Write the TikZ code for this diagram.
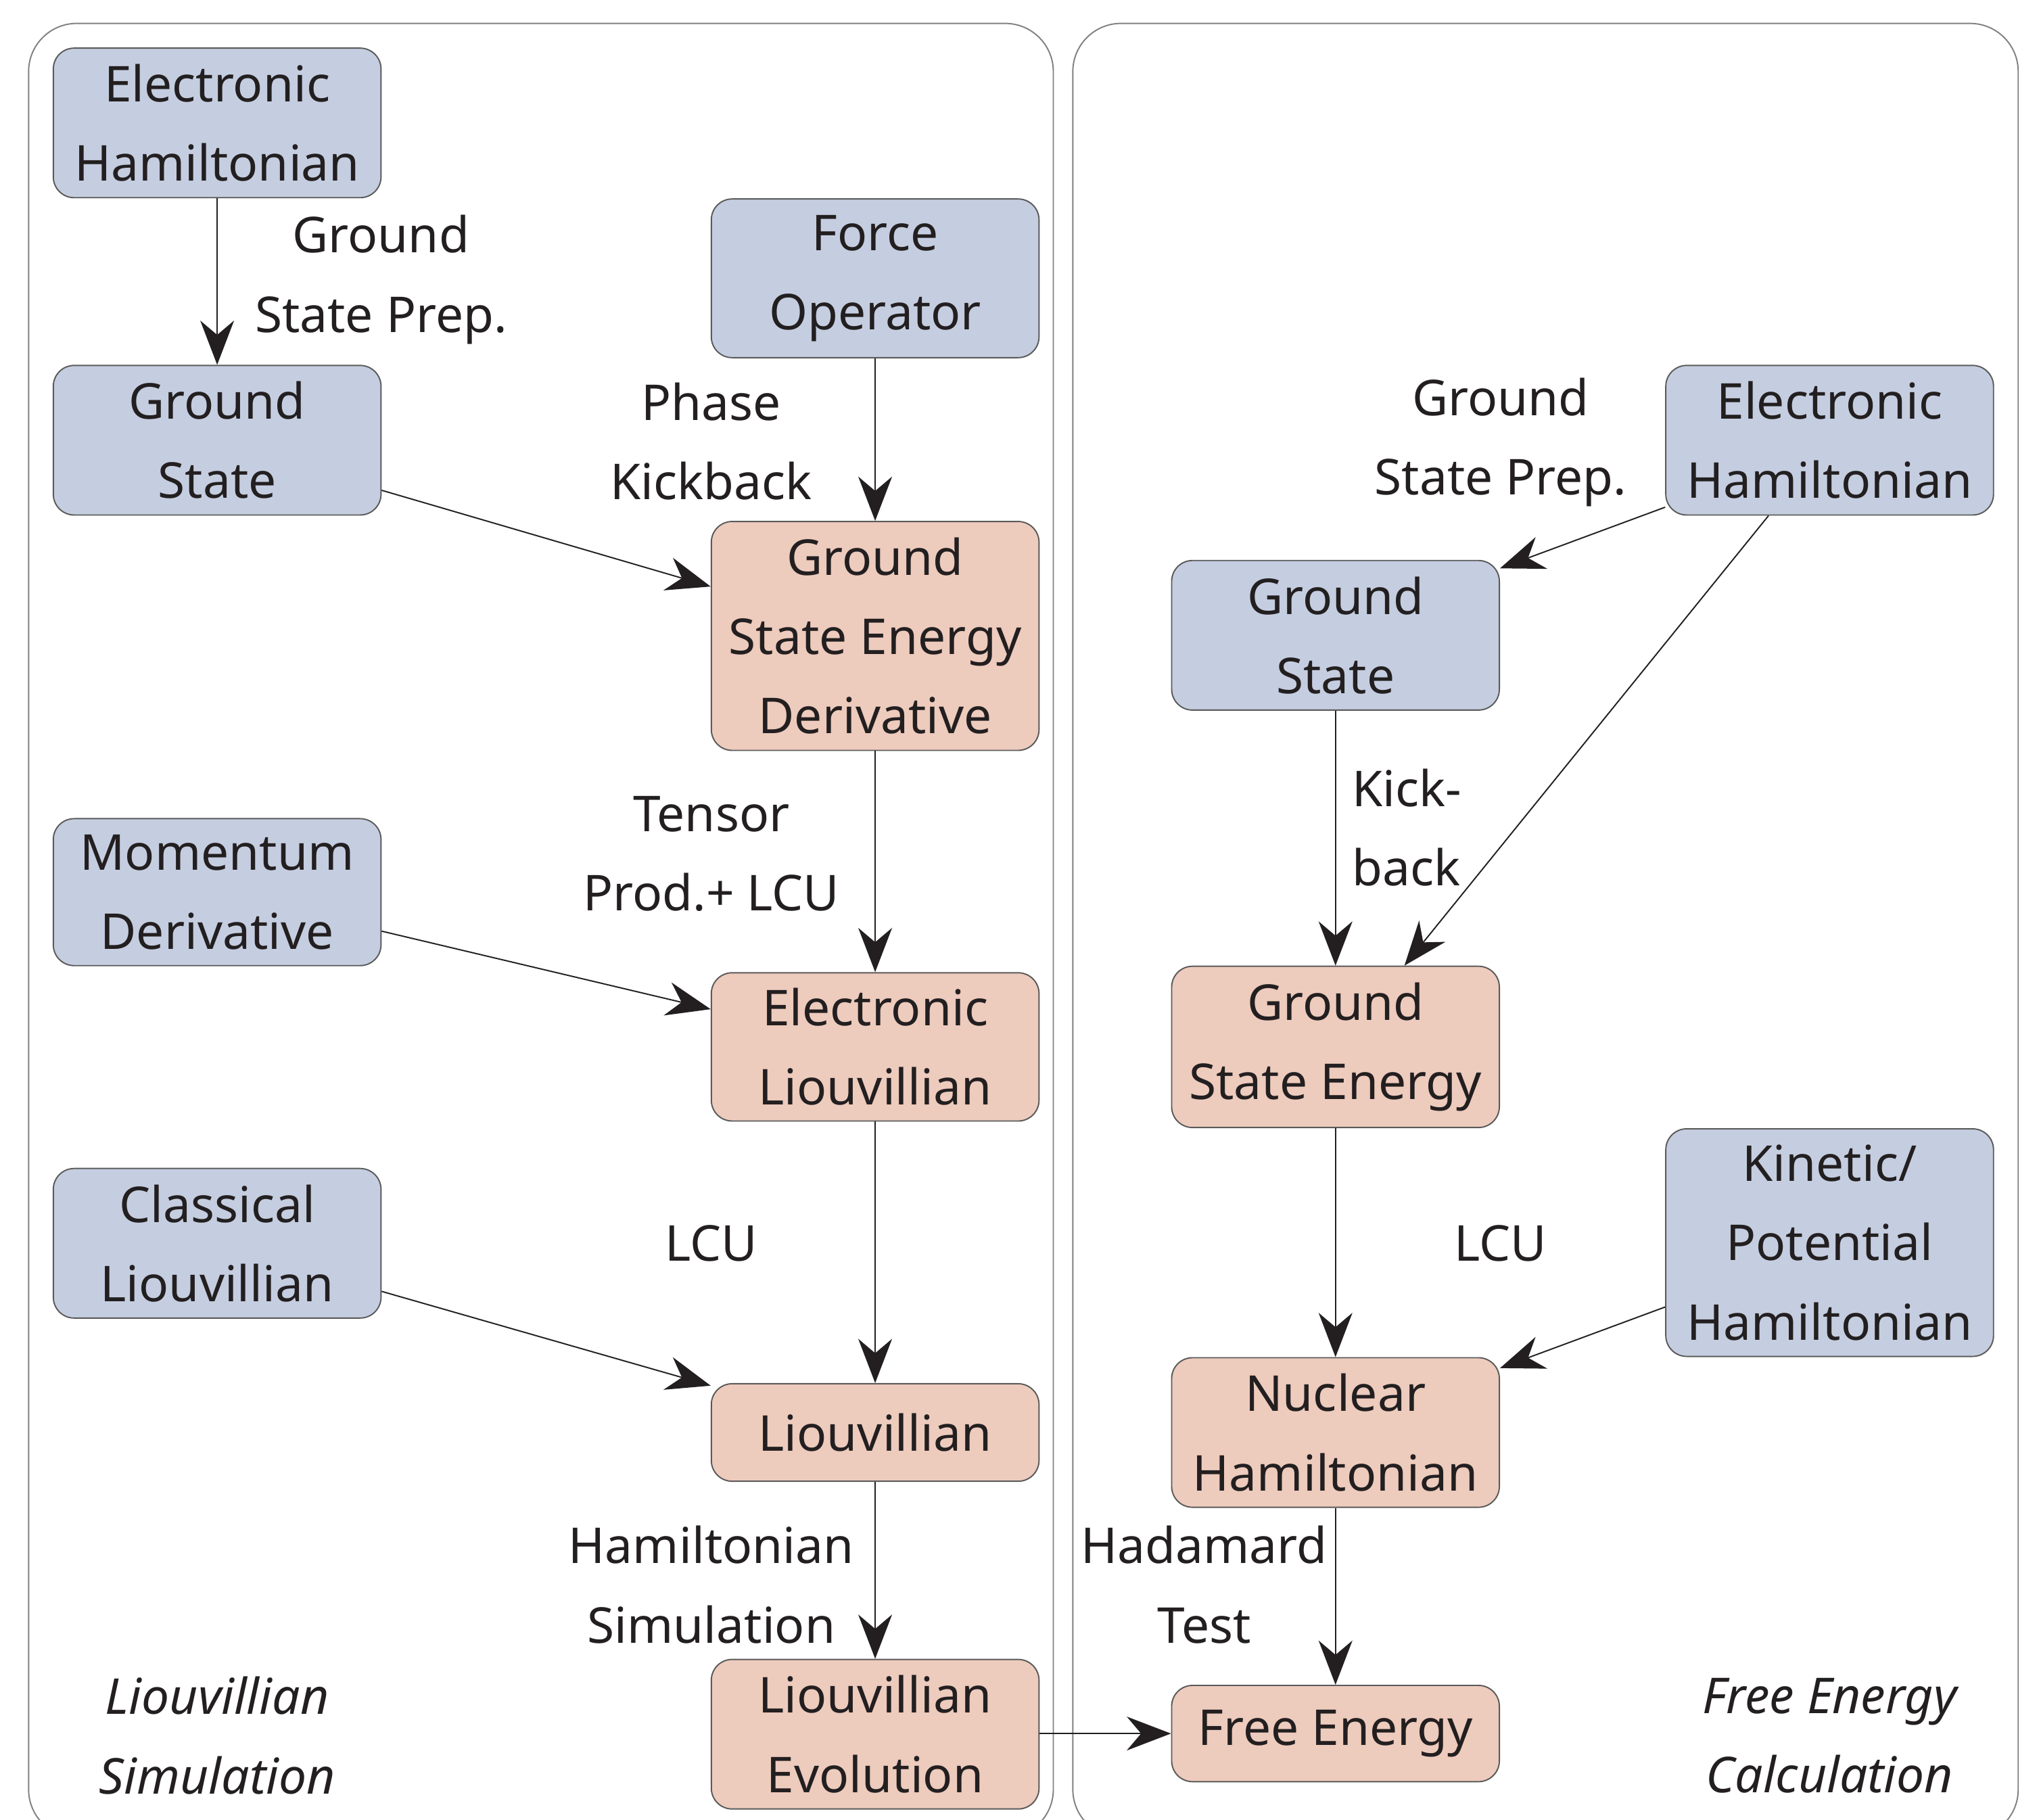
\documentclass[tikz,border=0pt]{standalone}
\usepackage{fontspec}
\setmainfont{Noto Sans}
\usetikzlibrary{arrows.meta,calc}
\definecolor{bluefill}{HTML}{C5CEE0}
\definecolor{salmonfill}{HTML}{EDCBBD}
\definecolor{bordergray}{HTML}{5A5A5A}
\definecolor{panelgray}{HTML}{808080}
\definecolor{ink}{HTML}{231F20}
\begin{document}
\begin{tikzpicture}[x=0.5pt,y=-0.5pt,
  box/.style={draw=bordergray, line width=0.5pt, rounded corners=8pt, minimum width=126pt, inner sep=0pt, align=center, text=ink, font=\fontsize{19}{30.5}\selectfont},
  inbox/.style={box, fill=bluefill},
  outbox/.style={box, fill=salmonfill},
  lbl/.style={align=center, text=ink, inner sep=0pt, font=\fontsize{19}{30.5}\selectfont},
  ilbl/.style={lbl, font=\fontsize{19}{30.5}\selectfont\itshape},
  panel/.style={draw=panelgray, line width=0.5pt, rounded corners=18.5pt},
  arr/.style={draw=ink, line width=0.5pt, -{Stealth[length=17pt,width=13pt,inset=5.5pt]}}
]
\useasboundingbox (0,0) rectangle (1568,1399);
\fill[white] (0,0) rectangle (1568,1399);
% panels
\draw[panel] (22,18) rectangle (810,1413);
\draw[panel] (825,18) rectangle (1552,1413);

% left panel nodes
\node[inbox, minimum height=57.5pt] (EH1) at (167,94.5) {Electronic\\Hamiltonian};
\node[inbox, minimum height=57.5pt] (GS1) at (167,338.5) {Ground\\State};
\node[inbox, minimum height=61pt] (FO) at (673,214) {Force\\Operator};
\node[outbox, minimum height=88pt] (GSED) at (673,489) {Ground\\State Energy\\Derivative};
\node[inbox, minimum height=56.5pt] (MD) at (167,686) {Momentum\\Derivative};
\node[outbox, minimum height=57pt] (EL) at (673,805) {Electronic\\Liouvillian};
\node[inbox, minimum height=57.5pt] (CL) at (167,956) {Classical\\Liouvillian};
\node[outbox, minimum height=37.5pt] (L) at (673,1101.5) {Liouvillian};
\node[outbox, minimum height=57.5pt] (LE) at (673,1333.5) {Liouvillian\\Evolution};

% right panel nodes
\node[inbox, minimum height=57.5pt] (EH2) at (1407,338.5) {Electronic\\Hamiltonian};
\node[inbox, minimum height=57.5pt] (GS2) at (1027,488.5) {Ground\\State};
\node[outbox, minimum height=62pt] (GSE) at (1027,805) {Ground\\State Energy};
\node[inbox, minimum height=87.5pt] (KPH) at (1407,955.5) {Kinetic/\\Potential\\Hamiltonian};
\node[outbox, minimum height=57.5pt] (NH) at (1027,1101.5) {Nuclear\\Hamiltonian};
\node[outbox, minimum height=37pt] (FE) at (1027,1333) {Free Energy};

% edge labels
\node[lbl] (l1) at (293,215) {Ground\\State Prep.};
\node[lbl] (l2) at (547,339.5) {Phase\\Kickback};
\node[lbl] (l3) at (547,656.5) {Tensor\\Prod.+ LCU};
\node[lbl] (l4) at (547,956) {LCU};
\node[lbl] (l5) at (547,1218.5) {Hamiltonian\\Simulation};
\node[lbl] (l6) at (1154,340) {Ground\\State Prep.};
\node[lbl, align=left] (l7) at (1082,636.5) {Kick-\\back};
\node[lbl] (l8) at (1154,956) {LCU};
\node[lbl] (l9) at (926,1218.5) {Hadamard\\Test};
\node[ilbl] (t1) at (167,1334.5) {Liouvillian\\Simulation};
\node[ilbl] (t2) at (1407,1334.5) {Free Energy\\Calculation};

% edges left
\draw[arr] (EH1) -- (GS1);
\draw[arr] ($(GS1.east)+(0,38.5)$) -- ($(GSED.west)+(0,-38)$);
\draw[arr] (FO) -- (GSED);
\draw[arr] (GSED) -- (EL);
\draw[arr] ($(MD.east)+(0,30)$) -- ($(EL.west)+(0,-29)$);
\draw[arr] (EL) -- (L);
\draw[arr] ($(CL.east)+(0,37)$) -- ($(L.west)+(0,-36)$);
\draw[arr] (L) -- (LE);
\draw[arr] (LE.east |- FE.west) -- (FE.west);
% edges right
\draw[arr] ($(EH2.west)+(0,51.5)$) -- ($(GS2.east)+(0,-51.5)$);
\draw[arr] ($(EH2.south)+(-47,0)$) -- ($(GSE.north)+(53,0)$);
\draw[arr] (GS2) -- (GSE);
\draw[arr] (GSE) -- (NH);
\draw[arr] ($(KPH.west)+(0,49.5)$) -- ($(NH.east)+(0,-49.5)$);
\draw[arr] (NH) -- (FE);
\end{tikzpicture}
\end{document}
